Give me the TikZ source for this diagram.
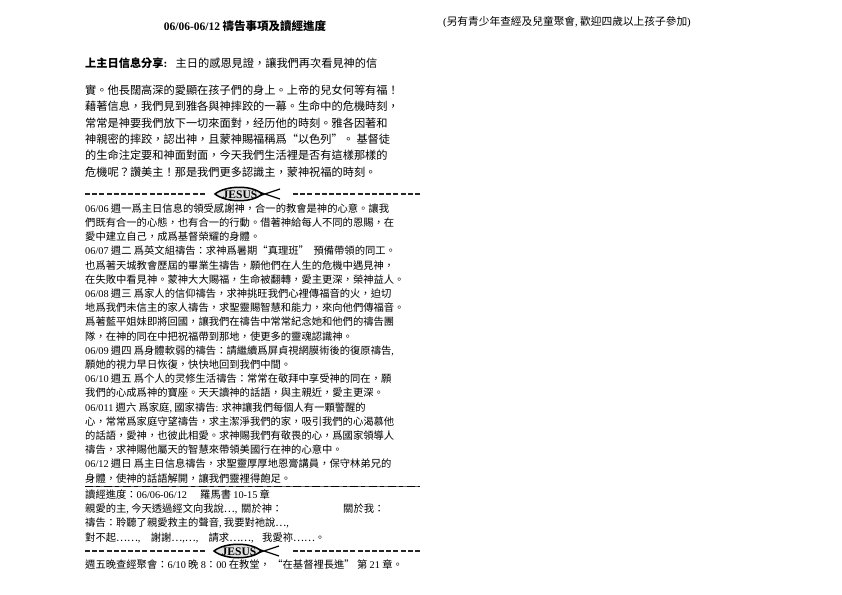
\documentclass[tikz,border=0pt]{standalone}
\usepackage{fontspec}
\setmainfont{Noto Sans CJK TC}
\newfontfamily\latn{Liberation Serif}
\newcommand\dg[1]{{\latn #1}}
\usetikzlibrary{positioning}
% fish emblem: name, x, y
\newcommand\jesusfish[3]{%
\begin{scope}[shift={(#2,#3)}]
\draw[line width=1.5pt, fill=black!12] (-32,0) .. controls (-21,-9) and (6,-9) .. (15,0) .. controls (6,9) and (-21,9) .. (-32,0) -- cycle;
\draw[line width=1.2pt] (12,-2) -- (33,5) (12,2) -- (33,-5);
\node[font=\latn\bfseries\fontsize{11.5bp}{11.5bp}\selectfont, inner sep=0] (#1) at (-7,0.5) {JESUS};
\end{scope}}
\begin{document}
\begin{tikzpicture}[x=1bp, y=-1bp,
  line/.style={anchor=west, inner sep=0, font=\fontsize{10.3bp}{14.2bp}\selectfont},
  block/.style={anchor=north west, inner sep=0, align=left},
  wavesep/.style={line width=2.7pt, dash pattern=on 5pt off 2.2pt, black!85},
  dashsep/.style={line width=1.8pt, dash pattern=on 8pt off 3.5pt on 4pt off 3.5pt}]
\useasboundingbox (0,0) rectangle (842,595);

% headings
\node[inner sep=0, font=\bfseries\fontsize{11.5bp}{14bp}\selectfont] (title) at (245,26) {\dg{06/06-06/12} 禱告事項及讀經進度};
\node[inner sep=0, font=\fontsize{10.7bp}{13bp}\selectfont] (note) at (567,22) {\dg{(}另有青少年查經及兒童聚會\dg{,} 歡迎四歲以上孩子參加\dg{)}};

% sharing
\node[anchor=west, inner sep=0, font=\bfseries\fontsize{11.2bp}{14bp}\selectfont] (share) at (85,63) {上主日信息分享\dg{:}};
\node[right=8bp of share, inner sep=0, font=\fontsize{11.2bp}{14bp}\selectfont] (shareA) {主日的感恩見證，讓我們再次看見神的信};
\node[block, font=\fontsize{11.2bp}{16.3bp}\selectfont] (shareB) at (85,84.8) {%
實。他長闊高深的愛顯在孩子們的身上。上帝的兒女何等有福！\\
藉著信息，我們見到雅各與神摔跤的一幕。生命中的危機時刻，\\
常常是神要我們放下一切來面對，经历他的時刻。雅各因著和\\
神親密的摔跤，認出神，且蒙神賜福稱爲“以色列”。 基督徒\\
的生命注定要和神面對面，今天我們生活裡是否有這樣那樣的\\
危機呢？讚美主！那是我們更多認識主，蒙神祝福的時刻。};

% separator
\coordinate (s1a) at (85,194);
\coordinate (s1b) at (206,194);
\coordinate (s1c) at (293,194);
\coordinate (s1d) at (420,194);
\draw[wavesep] (s1a) -- (s1b);
\draw[wavesep] (s1c) -- (s1d);
\jesusfish{fish1}{247}{194}

% prayer items
\node[block, font=\fontsize{10.3bp}{14.2bp}\selectfont] (pray) at (85,203.3) {%
\dg{06/06} 週一爲主日信息的領受感謝神，合一的教會是神的心意。讓我\\
們既有合一的心態，也有合一的行動。借著神給每人不同的恩賜，在\\
愛中建立自己，成爲基督榮耀的身體。\\
\dg{06/07} 週二 爲英文組禱告：求神爲暑期“真理班”\ \ 預備帶領的同工。\\
也爲著天城教會歷屆的畢業生禱告，願他們在人生的危機中遇見神，\\
在失敗中看見神。蒙神大大賜福，生命被翻轉，愛主更深，榮神益人。\\
\dg{06/08} 週三 爲家人的信仰禱告，求神挑旺我們心裡傳福音的火，迫切\\
地爲我們未信主的家人禱告，求聖靈賜智慧和能力，來向他們傳福音。\\
爲著藍平姐妹即將回國，讓我們在禱告中常常紀念她和他們的禱告團\\
隊，在神的同在中把祝福帶到那地，使更多的靈魂認識神。\\
\dg{06/09} 週四 爲身體軟弱的禱告：請繼續爲屏貞視網膜術後的復原禱告\dg{,}\\
願她的視力早日恢復，快快地回到我們中間。\\
\dg{06/10} 週五 爲个人的灵修生活禱告：常常在敬拜中享受神的同在，願\\
我們的心成爲神的寶座。天天讀神的話語，與主親近，愛主更深。\\
\dg{06/011} 週六 爲家庭\dg{,} 國家禱告\dg{:} 求神讓我們每個人有一顆警醒的\\
心，常常爲家庭守望禱告，求主潔淨我們的家，吸引我們的心渴慕他\\
的話語，愛神，也彼此相愛。求神賜我們有敬畏的心，爲國家領導人\\
禱告，求神賜他屬天的智慧來帶領美國行在神的心意中。\\
\dg{06/12} 週日 爲主日信息禱告，求聖靈厚厚地恩膏講員，保守林弟兄的\\
身體，使神的話語解開，讓我們靈裡得飽足。};

% reading
\coordinate (d1a) at (85,486.5);
\coordinate (d1b) at (420,486.5);
\draw[line width=0.3pt, black!60] (d1a) -- (d1b);
\draw[dashsep] (d1a) -- (d1b);
\node[line] (rd1) at (85,494.5) {讀經進度：\dg{06/06-06/12}};
\node[line] (rd1b) at (200,494.5) {羅馬書 \dg{10-15} 章};
\node[line] (rd2) at (85,509) {親愛的主\dg{,} 今天透過經文向我說…\dg{,}};
\node[line] (rd2b) at (241,509) {關於神：};
\node[line] (rd2c) at (343,509) {關於我：};
\node[line] (rd3) at (85,523) {禱告：聆聽了親愛救主的聲音\dg{,} 我要對祂說…\dg{,}};
\node[line] (rd4) at (85,537.5) {對不起……\dg{,}\quad 謝謝…\dg{,}…\dg{,}\quad 請求……\dg{,}};
\node[line] (rd4b) at (262,537.5) {我愛祢……。};

% separator
\coordinate (s2a) at (85,551);
\coordinate (s2b) at (205,551);
\coordinate (s2c) at (293,551);
\coordinate (s2d) at (420,551);
\draw[wavesep] (s2a) -- (s2b);
\draw[wavesep] (s2c) -- (s2d);
\jesusfish{fish2}{246}{551}

\node[line] (bible) at (85,565) {週五晚查經聚會：\dg{6/10} 晚 \dg{8}：\dg{00} 在教堂， “在基督裡長進” 第 \dg{21} 章。};
\end{tikzpicture}
\end{document}
